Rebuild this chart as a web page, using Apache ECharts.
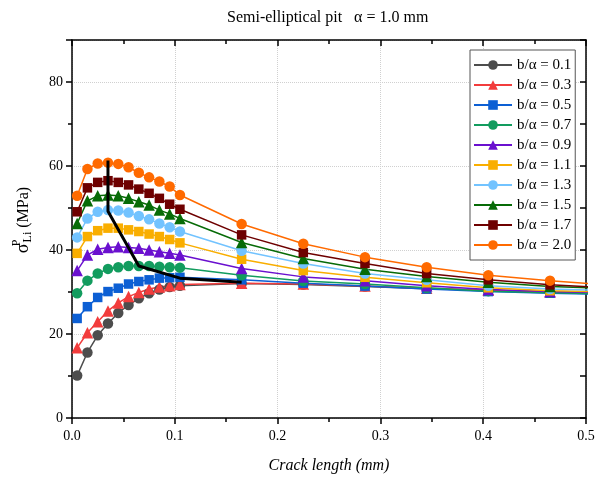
<!DOCTYPE html>
<html><head><meta charset="utf-8">
<script src="https://cdn.jsdelivr.net/npm/echarts@6/dist/echarts.min.js"></script>
<style>html,body{margin:0;padding:0;background:#fff}#c{width:603px;height:480px}</style>
</head><body><div id="c"></div>
<script>
// ---- data ----
const crackLength = [0.005,0.015,0.025,0.035,0.045,0.055,0.065,0.075,0.085,0.095,0.105,0.165,0.225,0.285,0.345,0.405,0.465,0.525];
const seriesNames = ['b/α = 0.1','b/α = 0.3','b/α = 0.5','b/α = 0.7','b/α = 0.9','b/α = 1.1','b/α = 1.3','b/α = 1.5','b/α = 1.7','b/α = 2.0'];
const s01 = [10.1,15.6,19.7,22.5,25.0,26.9,28.5,29.7,30.6,31.2,31.5,32.0,31.8,31.3,30.8,30.4,30.0,29.7];
const s03 = [16.7,20.3,22.9,25.5,27.4,28.9,29.9,30.7,31.2,31.5,31.8,32.1,31.9,31.4,30.9,30.4,30.0,29.7];
const s05 = [23.7,26.5,28.7,30.1,30.9,31.9,32.5,32.9,33.3,33.4,33.5,32.9,32.1,31.4,30.7,30.1,29.7,29.4];
const s07 = [29.7,32.7,34.4,35.5,35.9,36.2,36.2,36.2,36.0,35.9,35.8,34.0,32.6,31.9,31.0,30.2,29.8,29.5];
const s09 = [35.1,38.8,40.2,40.6,40.8,40.6,40.4,40.0,39.6,39.2,38.8,35.6,33.6,32.7,31.5,30.6,30.1,29.8];
const s11 = [39.2,43.2,44.6,45.2,45.2,44.8,44.4,43.8,43.2,42.5,41.7,37.8,35.1,33.5,32.2,31.0,30.3,30.0];
const s13 = [43.0,47.5,49.1,49.5,49.4,48.9,48.1,47.3,46.3,45.4,44.4,39.8,36.8,34.4,32.9,31.5,30.7,30.3];
const s15 = [46.3,51.7,52.9,53.1,52.9,52.3,51.5,50.7,49.5,48.6,47.5,41.8,38.0,35.4,33.7,32.3,31.3,30.8];
const s17 = [49.1,54.8,56.1,56.5,56.1,55.5,54.5,53.5,52.3,50.9,49.7,43.6,39.4,36.8,34.4,32.9,31.7,31.0];
const s20 = [52.9,59.3,60.6,60.8,60.5,59.7,58.4,57.3,56.3,55.1,53.1,46.2,41.5,38.3,35.9,34.0,32.7,31.6];
const peakPathX = [0.035,0.035,0.065,0.105,0.165];
const peakPathY = [61.3,49.2,36.2,33.3,32.3];
const xTickLabels = ['0.0','0.1','0.2','0.3','0.4','0.5'];
const yTickLabels = ['0','20','40','60','80'];

// ---- styling ----
const values = [s01,s03,s05,s07,s09,s11,s13,s15,s17,s20];
const colors = ['#4d4d4d','#f23c3c','#0c5fd4','#129c5e','#6a10cf','#f9ae00','#72c3ff','#076b07','#6e0000','#ff6a00'];
const symbols = ['circle','triangle','rect','circle','triangle','rect','circle','triangle','rect','circle'];
const symSizes = {circle:10.5, triangle:11.5, rect:9.5};
const FONT = '"Liberation Serif", "Times New Roman", serif';

const series = values.map((v, i) => ({
  name: seriesNames[i], type: 'line', xAxisIndex: 0, yAxisIndex: 0,
  data: crackLength.map((x, k) => [x, v[k]]),
  symbol: symbols[i], symbolSize: symSizes[symbols[i]],
  itemStyle: {color: colors[i]}, lineStyle: {color: colors[i], width: 1.5},
  clip: true, animation: false
}));
series.push({
  name: 'peak', type: 'line', xAxisIndex: 0, yAxisIndex: 0,
  data: peakPathX.map((x, k) => [x, peakPathY[k]]),
  symbol: 'none', lineStyle: {color: '#000', width: 3}, z: 5, animation: false
});

const tickStyle = {color: '#000', width: 1.5};
const grid = {left: 72, right: 17, top: 40, bottom: 62};

const option = {
  backgroundColor: '#fff',
  animation: false,
  grid,
  graphic: [{
    type: 'text', left: 330 - 103, top: 10,
    style: {text: 'Semi-elliptical pit   α = 1.0 mm', font: '16px ' + FONT, fill: '#000'}
  }],
  legend: {
    data: seriesNames, orient: 'vertical', left: 470, top: 50,
    padding: [7, 4, 7, 3], itemGap: 4, itemWidth: 38, itemHeight: 12,
    borderColor: '#555', borderWidth: 1, backgroundColor: '#fff',
    textStyle: {fontFamily: FONT, fontSize: 15, color: '#000', lineHeight: 16}
  },
  xAxis: [{
    type: 'value', min: 0, max: 0.5, interval: 0.1, position: 'bottom',
    axisLine: {show: true, onZero: false, lineStyle: tickStyle},
    axisTick: {show: true, inside: false, length: 6, lineStyle: tickStyle},
    minorTick: {show: true, splitNumber: 2, length: 4, lineStyle: tickStyle},
    axisLabel: {formatter: v => xTickLabels[Math.round(v * 10)] || '', color: '#000', fontFamily: FONT, fontSize: 14, margin: 11},
    splitLine: {show: true, lineStyle: {type: 'dotted', color: '#d0d0d0', width: 1}},
    name: 'Crack length (mm)', nameLocation: 'middle', nameGap: 40,
    nameTextStyle: {fontFamily: FONT, fontStyle: 'italic', fontSize: 16, color: '#000'}
  }, {
    type: 'value', min: 0, max: 0.5, interval: 0.1, position: 'top',
    axisLine: {show: true, onZero: false, lineStyle: tickStyle},
    axisTick: {show: true, inside: true, length: 6, lineStyle: tickStyle},
    minorTick: {show: true, splitNumber: 2, length: 4, lineStyle: tickStyle},
    axisLabel: {show: false}, splitLine: {show: false}
  }],
  yAxis: [{
    type: 'value', min: 0, max: 90, interval: 20, position: 'left',
    axisLine: {show: true, onZero: false, lineStyle: tickStyle},
    axisTick: {show: true, inside: false, length: 6, lineStyle: tickStyle},
    minorTick: {show: true, splitNumber: 2, length: 4, lineStyle: tickStyle},
    axisLabel: {formatter: v => (v % 20 === 0 ? (yTickLabels[v / 20] || '') : ''), color: '#000', fontFamily: FONT, fontSize: 14, margin: 9},
    splitLine: {show: true, lineStyle: {type: 'dotted', color: '#d0d0d0', width: 1}},
    name: '{s|σ}{p|P}{l|Li}{m| (MPa)}', nameLocation: 'middle', nameGap: 36,
    nameTextStyle: {
      fontFamily: FONT, fontSize: 16, color: '#000', padding: [0, 0, 0, 18],
      rich: {
        s: {fontFamily: FONT, fontSize: 18, color: '#000'},
        p: {fontFamily: FONT, fontSize: 12, color: '#000', width: 1, padding: [0, 0, 13, 0]},
        l: {fontFamily: FONT, fontSize: 12, color: '#000', padding: [8, 0, 0, 0]},
        m: {fontFamily: FONT, fontSize: 16, color: '#000'}
      }
    }
  }, {
    type: 'value', min: 0, max: 90, interval: 20, position: 'right',
    axisLine: {show: true, onZero: false, lineStyle: tickStyle},
    axisTick: {show: true, inside: true, length: 6, lineStyle: tickStyle},
    minorTick: {show: true, splitNumber: 2, length: 6, lineStyle: tickStyle},
    axisLabel: {show: false}, splitLine: {show: false}
  }],
  series
};
const chart = echarts.init(document.getElementById('c'), null, {renderer: 'canvas'});
chart.setOption(option);
</script></body></html>
